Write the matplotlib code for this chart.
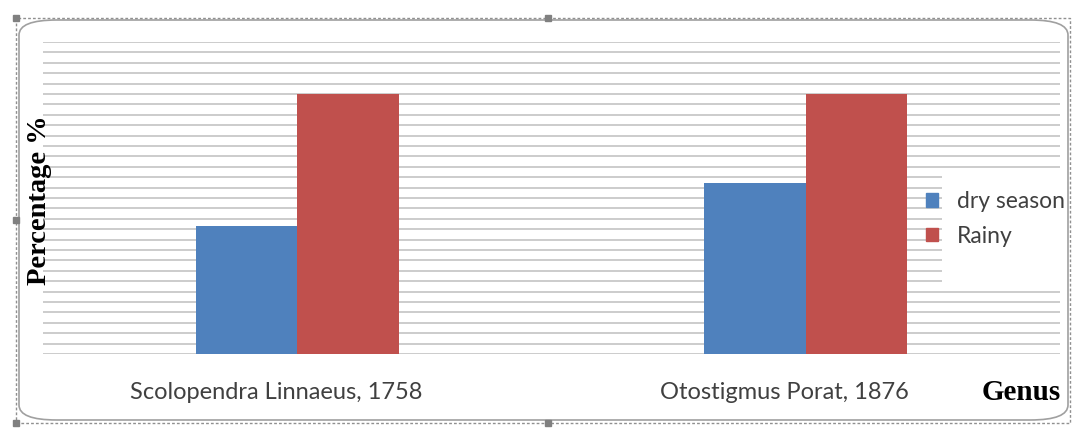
import matplotlib.pyplot as plt
import matplotlib.transforms as mtransforms
from matplotlib.patches import FancyBboxPatch, Rectangle, Patch

genera = ['Scolopendra Linnaeus, 1758', 'Otostigmus Porat, 1876']
dry_season = [12.3, 16.4]
rainy = [25.0, 25.0]

blue = '#4F81BD'
red = '#C0504D'

fig = plt.figure(figsize=(10.78, 4.30), dpi=100)
ax = fig.add_axes([0.0399, 0.1767, 0.9434, 0.7256])

x = [0.5, 1.5]
w = 0.2
ax.bar([i - w / 2 for i in x], dry_season, w, color=blue, zorder=3)
ax.bar([i + w / 2 for i in x], rainy, w, color=red, zorder=3)

ax.set_xlim(0, 2)
ax.set_ylim(0, 30)
ax.set_yticks(range(0, 31))
ax.yaxis.grid(True, color='#c8c8c8', lw=1.3, zorder=0)
ax.set_yticklabels([])
ax.tick_params(axis='y', length=0)
ax.set_xticks(x)
ax.set_xticklabels(genera, family='Lato', fontsize=17, color='#404040')
ax.tick_params(axis='x', length=0, pad=20)
shift = mtransforms.ScaledTranslation(-0.21, 0, fig.dpi_scale_trans)
for lbl in ax.get_xticklabels():
    lbl.set_transform(lbl.get_transform() + shift)
for s in ax.spines.values():
    s.set_visible(False)

# white area behind the legend text
ax.add_patch(Rectangle((0.884, 0.205), 0.13, 0.378, transform=ax.transAxes,
                       facecolor='white', edgecolor='none', zorder=2, clip_on=False))

handles = [Patch(color=blue), Patch(color=red)]
leg = ax.legend(handles, ['dry season', 'Rainy'], loc='center left',
                bbox_to_anchor=(0.868, 0.433), frameon=False,
                borderpad=0, borderaxespad=0,
                handlelength=0.52, handleheight=0.52, handletextpad=0.85,
                labelspacing=0.6,
                prop={'family': 'Lato', 'size': 16.5})
for t in leg.get_texts():
    t.set_color('#404040')

fig.text(0.037, 0.535, 'Percentage %', rotation=90, ha='center', va='center',
         family='Liberation Serif', fontweight='bold', fontsize=20.5)
fig.text(0.947, 0.088, 'Genus', ha='center', va='center',
         family='Liberation Serif', fontweight='bold', fontsize=21)

# frame around the chart
fig.patches.append(FancyBboxPatch((19 / 1078, 10 / 430), 1049 / 1078, 400 / 430,
                                  boxstyle='round,pad=0,rounding_size=0.035',
                                  transform=fig.transFigure, fill=False,
                                  edgecolor='#a0a0a0', lw=1.2,
                                  mutation_aspect=430 / 1078 * 2.5))
fig.patches.append(Rectangle((16 / 1078, 7 / 430), 1054 / 1078, 405 / 430,
                             transform=fig.transFigure, fill=False,
                             edgecolor='#909090', lw=1, ls=(0, (2, 1.5))))
for hx, hy in [(16, 7), (548, 7), (16, 210), (16, 412), (548, 412)]:
    fig.patches.append(Rectangle(((hx - 3) / 1078, (hy - 3) / 430), 6 / 1078, 6 / 430,
                                 transform=fig.transFigure, color='#808080'))

fig.savefig('out.png', dpi=100)
